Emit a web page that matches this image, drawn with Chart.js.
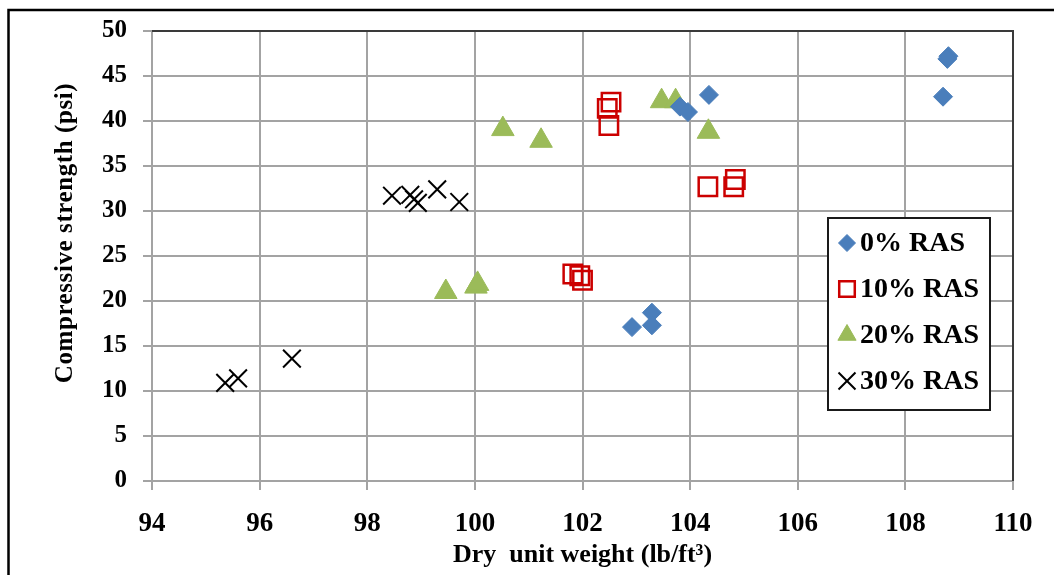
<!DOCTYPE html>
<html>
<head>
<meta charset="utf-8">
<script src="https://cdn.jsdelivr.net/npm/chart.js@4/dist/chart.umd.min.js"></script>
<style>
  html, body { margin: 0; padding: 0; background: #fff; }
  #wrap { position: relative; width: 1054px; height: 575px; }
</style>
</head>
<body>
<div id="wrap"><canvas id="c" width="1054" height="575"></canvas></div>
<script>
// Series names
const seriesNames = ['0% RAS', '10% RAS', '20% RAS', '30% RAS'];

// 0% RAS: dry unit weight (lb/ft3) and compressive strength (psi)
const weight0   = [108.80, 108.78, 108.70, 104.35, 103.81, 103.96, 102.92, 103.29, 103.29];
const strength0 = [47.2, 46.9, 42.7, 42.9, 41.6, 41.0, 17.1, 18.7, 17.3];

// 10% RAS
const weight10   = [102.53, 102.46, 102.49, 104.33, 104.81, 104.84, 101.82, 101.95, 102.00];
const strength10 = [42.1, 41.4, 39.5, 32.7, 32.7, 33.5, 23.0, 22.8, 22.3];

// 20% RAS
const weight20   = [100.52, 101.23, 103.47, 103.73, 104.34, 99.46, 100.02, 100.05];
const strength20 = [39.1, 37.8, 42.2, 42.2, 38.8, 21.0, 21.6, 21.9];

// 30% RAS
const weight30   = [98.46, 98.80, 98.87, 98.94, 99.30, 99.71, 95.36, 95.60, 96.60];
const strength30 = [31.7, 31.8, 31.3, 30.9, 32.4, 31.0, 10.9, 11.4, 13.6];

// Axis ticks and titles
const xTickValues = [94, 96, 98, 100, 102, 104, 106, 108, 110];
const yTickValues = [0, 5, 10, 15, 20, 25, 30, 35, 40, 45, 50];
const xTitle = 'Dry  unit weight (lb/ft\u00B3)';
const yTitle = 'Compressive strength (psi)';

const SERIF = '"Liberation Serif", "Times New Roman", serif';
const GRID = '#a3a3a3';

function toPoints(xs, ys) {
  return xs.map((x, i) => ({ x: x, y: ys[i] }));
}

const datasets = [
  {
    label: seriesNames[0],
    data: toPoints(weight0, strength0),
    pointStyle: 'rectRot',
    pointRadius: 9.5,
    backgroundColor: '#4a7ebb',
    borderColor: '#4a7ebb',
    borderWidth: 1,
    legendRadius: 8.5
  },
  {
    label: seriesNames[1],
    data: toPoints(weight10, strength10),
    pointStyle: 'rect',
    pointRadius: 13,
    backgroundColor: 'rgba(0,0,0,0)',
    borderColor: '#cc0000',
    borderWidth: 2.5,
    legendRadius: 11
  },
  {
    label: seriesNames[2],
    data: toPoints(weight20, strength20),
    pointStyle: 'triangle',
    pointRadius: 13,
    backgroundColor: '#9bbb59',
    borderColor: '#9bbb59',
    borderWidth: 1,
    legendRadius: 10.5
  },
  {
    label: seriesNames[3],
    data: toPoints(weight30, strength30),
    pointStyle: 'crossRot',
    pointRadius: 12.5,
    backgroundColor: '#000',
    borderColor: '#000',
    borderWidth: 2,
    legendRadius: 12
  }
];

// Page frame and white background
const framePlugin = {
  id: 'frame',
  beforeDraw(chart) {
    const ctx = chart.ctx;
    ctx.save();
    ctx.fillStyle = '#fff';
    ctx.fillRect(0, 0, chart.width, chart.height);
    ctx.strokeStyle = '#000';
    ctx.lineWidth = 2.5;
    ctx.beginPath();
    ctx.moveTo(chart.width, 10);
    ctx.lineTo(8.5, 10);
    ctx.lineTo(8.5, chart.height);
    ctx.stroke();
    ctx.restore();
  }
};

// Dark border along the top and right of the plot area
const plotBorderPlugin = {
  id: 'plotBorder',
  beforeDatasetsDraw(chart) {
    const { ctx, chartArea: a } = chart;
    ctx.save();
    ctx.strokeStyle = '#3a3a3a';
    ctx.lineWidth = 2;
    ctx.beginPath();
    ctx.moveTo(a.left, a.top);
    ctx.lineTo(a.right, a.top);
    ctx.lineTo(a.right, a.bottom);
    ctx.stroke();
    ctx.restore();
  }
};

// Rotated y-axis title, placed a little above the axis centre
const yTitlePlugin = {
  id: 'yTitle',
  afterDraw(chart) {
    const ctx = chart.ctx;
    ctx.save();
    ctx.translate(66, 233);
    ctx.rotate(-Math.PI / 2);
    ctx.font = 'bold 25px ' + SERIF;
    const w = ctx.measureText(yTitle).width;
    const target = 300;
    if ('letterSpacing' in ctx && w < target) {
      ctx.letterSpacing = ((target - w) / (yTitle.length - 1)).toFixed(2) + 'px';
    }
    ctx.fillStyle = '#000';
    ctx.textAlign = 'center';
    ctx.textBaseline = 'middle';
    ctx.fillText(yTitle, 0, 0);
    ctx.restore();
  }
};

// Boxed legend inside the plot area, lower right
function drawMarker(ctx, style, r, x, y, ds) {
  ctx.save();
  ctx.fillStyle = ds.backgroundColor;
  ctx.strokeStyle = ds.borderColor;
  ctx.lineWidth = ds.borderWidth;
  ctx.beginPath();
  if (style === 'rectRot') {
    ctx.moveTo(x - r, y); ctx.lineTo(x, y - r); ctx.lineTo(x + r, y); ctx.lineTo(x, y + r);
    ctx.closePath(); ctx.fill(); ctx.stroke();
  } else if (style === 'rect') {
    const s = r * Math.SQRT1_2;
    ctx.rect(x - s, y - s, 2 * s, 2 * s);
    ctx.stroke();
  } else if (style === 'triangle') {
    ctx.moveTo(x, y - r);
    ctx.lineTo(x + 0.866 * r, y + 0.5 * r);
    ctx.lineTo(x - 0.866 * r, y + 0.5 * r);
    ctx.closePath(); ctx.fill(); ctx.stroke();
  } else if (style === 'crossRot') {
    const s = r * Math.SQRT1_2;
    ctx.moveTo(x - s, y - s); ctx.lineTo(x + s, y + s);
    ctx.moveTo(x + s, y - s); ctx.lineTo(x - s, y + s);
    ctx.stroke();
  }
  ctx.restore();
}

const legendPlugin = {
  id: 'boxLegend',
  afterDraw(chart) {
    const ctx = chart.ctx;
    const box = { x: 828, y: 218, w: 162, h: 192 };
    ctx.save();
    ctx.fillStyle = '#fff';
    ctx.fillRect(box.x, box.y, box.w, box.h);
    ctx.strokeStyle = '#1a1a1a';
    ctx.lineWidth = 2;
    ctx.strokeRect(box.x, box.y, box.w, box.h);
    ctx.font = 'bold 28px ' + SERIF;
    ctx.fillStyle = '#000';
    ctx.textAlign = 'left';
    ctx.textBaseline = 'middle';
    chart.data.datasets.forEach((ds, i) => {
      const cy = box.y + 25 + i * 46;
      drawMarker(ctx, ds.pointStyle, ds.legendRadius, 847, cy, ds);
      ctx.fillText(ds.label, 860, cy + 1);
    });
    ctx.restore();
  }
};

const AXIS_LEFT = 152, AXIS_BOTTOM = 481;

new Chart(document.getElementById('c'), {
  type: 'scatter',
  data: { datasets: datasets },
  options: {
    responsive: false,
    animation: false,
    events: [],
    layout: { padding: { left: 0, top: 31, right: 41, bottom: 0 } },
    plugins: {
      legend: { display: false },
      tooltip: { enabled: false }
    },
    scales: {
      x: {
        type: 'linear',
        min: xTickValues[0],
        max: xTickValues[xTickValues.length - 1],
        afterBuildTicks(scale) { scale.ticks = xTickValues.map(v => ({ value: v })); },
        afterFit(scale) { scale.height = 575 - AXIS_BOTTOM; },
        grid: { color: GRID, lineWidth: 2, tickLength: 9, tickColor: GRID, tickWidth: 2 },
        border: { color: GRID, width: 2 },
        ticks: {
          color: '#000',
          padding: 18,
          maxRotation: 0,
          autoSkip: false,
          font: { family: SERIF, size: 27, weight: 'bold' }
        },
        title: {
          display: true,
          text: xTitle,
          color: '#000',
          padding: { top: 0, bottom: 4 },
          font: { family: SERIF, size: 26, weight: 'bold' }
        }
      },
      y: {
        type: 'linear',
        min: yTickValues[0],
        max: yTickValues[yTickValues.length - 1],
        afterBuildTicks(scale) { scale.ticks = yTickValues.map(v => ({ value: v })); },
        afterFit(scale) { scale.width = AXIS_LEFT; },
        grid: { color: GRID, lineWidth: 2, tickLength: 9, tickColor: GRID, tickWidth: 2 },
        border: { color: GRID, width: 2 },
        ticks: {
          color: '#000',
          padding: 16,
          autoSkip: false,
          font: { family: SERIF, size: 25, weight: 'bold' }
        }
      }
    }
  },
  plugins: [framePlugin, plotBorderPlugin, yTitlePlugin, legendPlugin]
});
</script>
</body>
</html>
